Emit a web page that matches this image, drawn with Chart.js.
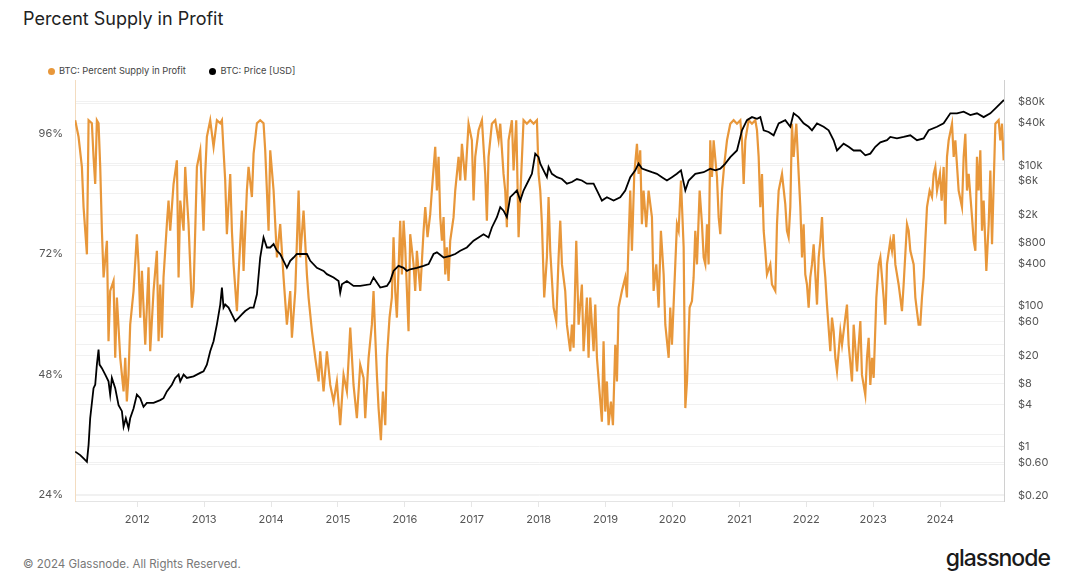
<!DOCTYPE html>
<html>
<head>
<meta charset="utf-8">
<script src="https://cdn.jsdelivr.net/npm/chart.js@4.4.1/dist/chart.umd.min.js"></script>
<style>
  body { margin: 0; background: #fff; font-family: Inter, "Noto Sans", sans-serif; }
  #wrap { position: relative; width: 1072px; height: 588px; overflow: hidden; }
  #title { position: absolute; left: 23px; top: 7px; font-size: 18px; color: #222; line-height: 24px; }
  #legend { position: absolute; left: 48px; top: 64px; font-size: 9.3px; color: #444; line-height: 14px; white-space: nowrap; }
  #legend span.dot { display: inline-block; width: 7px; height: 7px; border-radius: 50%; margin-right: 4px; vertical-align: -0.5px; }
  #legend span.item { margin-right: 21px; }
  #box { position: absolute; left: 0; top: 70px; }
  #copy { position: absolute; left: 23px; top: 557px; font-size: 11.5px; color: #777; }
  #logo { position: absolute; right: 22px; top: 544px; font-size: 23px; color: #1a1a1a; font-weight: 500; letter-spacing: -1px; }
</style>
</head>
<body>
<div id="wrap">
  <div id="title">Percent Supply in Profit</div>
  <div id="legend">
    <span class="item"><span class="dot" style="background:#e8973a"></span>BTC: Percent Supply in Profit</span>
    <span class="item"><span class="dot" style="background:#000"></span>BTC: Price [USD]</span>
  </div>
  <div id="box"><canvas id="chart" width="1072" height="470"></canvas></div>
  <div id="copy">© 2024 Glassnode. All Rights Reserved.</div>
  <div id="logo">glassnode</div>
</div>
<script>
// percent supply in profit (year fraction, %)
const profitYears = [
  2011.073, 2011.123, 2011.173, 2011.198, 2011.248, 2011.273, 2011.322, 2011.347, 2011.372, 2011.397,
  2011.422, 2011.447, 2011.472, 2011.497, 2011.547, 2011.571, 2011.596, 2011.646, 2011.671, 2011.696,
  2011.746, 2011.796, 2011.821, 2011.845, 2011.870, 2011.895, 2011.945, 2011.995, 2012.020, 2012.045,
  2012.070, 2012.120, 2012.169, 2012.194, 2012.244, 2012.294, 2012.319, 2012.344, 2012.369, 2012.393,
  2012.443, 2012.468, 2012.493, 2012.543, 2012.593, 2012.618, 2012.643, 2012.693, 2012.717, 2012.742,
  2012.767, 2012.817, 2012.842, 2012.867, 2012.892, 2012.942, 2012.967, 2012.991, 2013.016, 2013.041,
  2013.091, 2013.141, 2013.191, 2013.241, 2013.266, 2013.290, 2013.315, 2013.340, 2013.390, 2013.415,
  2013.440, 2013.490, 2013.515, 2013.564, 2013.589, 2013.639, 2013.664, 2013.714, 2013.739, 2013.789,
  2013.838, 2013.888, 2013.913, 2013.963, 2013.988, 2014.038, 2014.088, 2014.137, 2014.187, 2014.237,
  2014.287, 2014.312, 2014.362, 2014.412, 2014.436, 2014.486, 2014.536, 2014.561, 2014.611, 2014.661,
  2014.711, 2014.735, 2014.785, 2014.835, 2014.885, 2014.935, 2014.984, 2015.034, 2015.084, 2015.134,
  2015.184, 2015.233, 2015.283, 2015.333, 2015.383, 2015.408, 2015.458, 2015.507, 2015.532, 2015.557,
  2015.582, 2015.607, 2015.642, 2015.672, 2015.707, 2015.732, 2015.771, 2015.806, 2015.831, 2015.856,
  2015.881, 2015.931, 2015.956, 2015.981, 2016.005, 2016.055, 2016.080, 2016.130, 2016.155, 2016.180,
  2016.230, 2016.280, 2016.305, 2016.339, 2016.379, 2016.404, 2016.454, 2016.479, 2016.504, 2016.529,
  2016.554, 2016.579, 2016.604, 2016.628, 2016.653, 2016.678, 2016.728, 2016.753, 2016.803, 2016.828,
  2016.853, 2016.903, 2016.952, 2017.002, 2017.027, 2017.052, 2017.102, 2017.152, 2017.201, 2017.226,
  2017.251, 2017.301, 2017.351, 2017.401, 2017.426, 2017.475, 2017.500, 2017.525, 2017.550, 2017.600,
  2017.625, 2017.665, 2017.700, 2017.725, 2017.774, 2017.824, 2017.874, 2017.924, 2017.974, 2017.999,
  2018.024, 2018.049, 2018.083, 2018.123, 2018.148, 2018.173, 2018.223, 2018.263, 2018.298, 2018.323,
  2018.348, 2018.397, 2018.422, 2018.472, 2018.497, 2018.522, 2018.562, 2018.597, 2018.646, 2018.671,
  2018.721, 2018.746, 2018.771, 2018.821, 2018.846, 2018.871, 2018.910, 2018.945, 2018.970, 2018.995,
  2019.020, 2019.045, 2019.080, 2019.110, 2019.145, 2019.170, 2019.194, 2019.244, 2019.294, 2019.319,
  2019.344, 2019.369, 2019.394, 2019.429, 2019.469, 2019.494, 2019.518, 2019.543, 2019.568, 2019.608,
  2019.643, 2019.693, 2019.718, 2019.758, 2019.793, 2019.827, 2019.868, 2019.893, 2019.943, 2019.967,
  2019.992, 2020.017, 2020.042, 2020.067, 2020.092, 2020.127, 2020.167, 2020.192, 2020.217, 2020.256,
  2020.291, 2020.316, 2020.341, 2020.366, 2020.406, 2020.441, 2020.466, 2020.491, 2020.516, 2020.540,
  2020.565, 2020.590, 2020.615, 2020.665, 2020.690, 2020.715, 2020.740, 2020.775, 2020.815, 2020.864,
  2020.914, 2020.964, 2021.014, 2021.039, 2021.064, 2021.089, 2021.138, 2021.188, 2021.238, 2021.263,
  2021.288, 2021.313, 2021.338, 2021.363, 2021.388, 2021.412, 2021.462, 2021.487, 2021.537, 2021.562,
  2021.587, 2021.637, 2021.686, 2021.711, 2021.736, 2021.761, 2021.786, 2021.811, 2021.851, 2021.886,
  2021.911, 2021.936, 2021.960, 2021.985, 2022.010, 2022.035, 2022.060, 2022.085, 2022.110, 2022.135,
  2022.160, 2022.185, 2022.210, 2022.235, 2022.259, 2022.284, 2022.309, 2022.359, 2022.384, 2022.409,
  2022.434, 2022.459, 2022.509, 2022.534, 2022.583, 2022.608, 2022.633, 2022.683, 2022.708, 2022.758,
  2022.783, 2022.808, 2022.832, 2022.882, 2022.907, 2022.932, 2022.957, 2022.982, 2023.007, 2023.047,
  2023.082, 2023.107, 2023.156, 2023.181, 2023.206, 2023.256, 2023.281, 2023.306, 2023.331, 2023.380,
  2023.405, 2023.430, 2023.455, 2023.505, 2023.530, 2023.555, 2023.605, 2023.630, 2023.654, 2023.679,
  2023.704, 2023.729, 2023.754, 2023.779, 2023.804, 2023.844, 2023.879, 2023.904, 2023.929, 2023.954,
  2023.998, 2024.023, 2024.053, 2024.078, 2024.103, 2024.128, 2024.178, 2024.203, 2024.228, 2024.277,
  2024.327, 2024.352, 2024.377, 2024.402, 2024.427, 2024.477, 2024.502, 2024.527, 2024.551, 2024.576,
  2024.601, 2024.626, 2024.651, 2024.691, 2024.726, 2024.751, 2024.776, 2024.826, 2024.875, 2024.900,
  2024.925, 2024.950
];
const profitValues = [
  98.6, 95.3, 89.3, 81.3, 71.9, 98.6, 98.0, 91.3, 85.9, 98.6,
  98.0, 89.3, 76.6, 67.3, 74.6, 54.6, 64.6, 66.6, 51.3, 63.3,
  51.3, 44.6, 51.3, 42.6, 47.9, 57.9, 64.6, 75.9, 69.9, 59.3,
  68.6, 53.9, 69.3, 52.6, 64.6, 72.6, 54.6, 65.9, 55.3, 67.3,
  77.9, 82.6, 76.6, 85.9, 90.6, 67.3, 82.6, 76.6, 89.3, 83.3,
  77.9, 61.3, 64.6, 76.6, 89.3, 92.6, 84.6, 76.6, 87.9, 95.3,
  98.6, 93.3, 98.6, 98.0, 98.6, 92.6, 86.6, 75.9, 87.9, 76.6,
  69.9, 60.6, 67.9, 80.6, 68.6, 84.6, 89.3, 83.3, 91.9, 98.0,
  98.6, 98.0, 92.6, 76.6, 92.6, 84.6, 71.3, 77.9, 67.3, 57.9,
  64.6, 55.3, 64.6, 84.6, 71.3, 80.6, 67.9, 63.3, 56.6, 51.3,
  46.6, 52.6, 44.6, 52.6, 45.9, 42.6, 46.6, 37.9, 47.9, 44.6,
  57.3, 45.9, 39.3, 49.9, 47.3, 39.3, 51.3, 57.9, 64.6, 55.9,
  47.9, 41.3, 34.9, 44.6, 37.9, 51.3, 59.3, 63.3, 75.3, 64.6,
  59.3, 78.6, 67.9, 78.6, 73.3, 56.6, 75.9, 69.9, 64.6, 72.6,
  64.6, 76.6, 81.3, 75.3, 79.9, 84.6, 93.3, 84.6, 91.3, 79.3,
  74.6, 79.3, 67.9, 73.3, 66.6, 74.6, 79.3, 84.6, 91.3, 86.6,
  93.9, 86.6, 97.9, 94.6, 82.6, 91.3, 96.6, 98.6, 87.9, 78.6,
  91.3, 97.9, 98.6, 94.6, 97.9, 87.9, 84.6, 77.3, 94.6, 98.6,
  88.6, 98.6, 75.3, 83.3, 98.6, 97.9, 98.6, 97.9, 98.6, 87.9,
  84.6, 77.9, 63.3, 71.3, 83.3, 72.6, 61.3, 58.6, 71.3, 78.6,
  69.9, 64.6, 57.9, 52.6, 57.9, 53.3, 74.6, 57.9, 65.9, 52.6,
  63.3, 51.3, 63.3, 52.6, 61.9, 51.3, 44.6, 38.6, 54.6, 40.6,
  46.6, 37.9, 42.6, 37.9, 53.9, 46.6, 61.3, 64.6, 67.3, 63.3,
  74.6, 84.6, 72.6, 87.9, 93.9, 87.9, 92.6, 77.9, 84.6, 77.3,
  84.6, 79.3, 64.6, 69.9, 61.3, 76.6, 67.9, 57.9, 51.3, 61.3,
  53.9, 61.9, 69.9, 77.9, 76.6, 86.6, 73.3, 41.3, 46.6, 61.3,
  62.6, 67.3, 76.6, 69.9, 84.6, 77.9, 71.3, 69.9, 77.9, 69.9,
  94.6, 87.3, 94.6, 87.3, 79.3, 75.9, 84.6, 89.9, 94.6, 97.9,
  98.6, 97.9, 98.6, 94.6, 85.9, 94.6, 98.6, 97.9, 98.6, 96.6,
  91.3, 81.3, 87.9, 76.6, 72.6, 67.9, 69.9, 65.9, 64.6, 77.9,
  84.6, 87.9, 81.9, 76.6, 75.3, 81.3, 97.9, 91.3, 97.9, 87.9,
  81.3, 71.3, 77.9, 67.9, 65.9, 61.3, 67.3, 69.9, 73.9, 67.9,
  61.9, 71.3, 74.6, 79.3, 71.3, 67.3, 61.9, 52.6, 59.3, 56.6,
  51.3, 48.6, 56.6, 53.9, 59.3, 61.9, 53.9, 46.6, 57.9, 48.6,
  53.9, 58.6, 47.9, 43.9, 51.3, 55.3, 45.9, 51.3, 47.3, 63.3,
  69.9, 71.3, 63.3, 57.9, 69.9, 74.6, 72.6, 75.9, 69.9, 65.9,
  63.3, 60.6, 65.9, 77.9, 76.6, 72.6, 69.9, 63.3, 60.6, 57.9,
  57.9, 63.3, 67.3, 74.6, 81.3, 84.6, 83.3, 87.9, 89.3, 84.6,
  87.9, 82.6, 89.3, 77.9, 91.3, 94.6, 97.9, 91.3, 94.6, 84.6,
  81.3, 91.3, 95.9, 84.6, 87.9, 79.3, 74.6, 72.6, 91.3, 84.6,
  92.6, 76.6, 82.6, 68.6, 77.9, 88.6, 73.9, 97.9, 98.6, 94.6,
  97.9, 90.6
];

// BTC price in USD (year fraction, $)
const priceYears = [
  2011.073, 2011.148, 2011.198, 2011.248, 2011.273, 2011.297, 2011.347, 2011.372, 2011.397, 2011.422,
  2011.437, 2011.472, 2011.522, 2011.571, 2011.596, 2011.621, 2011.671, 2011.721, 2011.771, 2011.796,
  2011.830, 2011.870, 2011.895, 2011.945, 2011.995, 2012.045, 2012.094, 2012.144, 2012.244, 2012.344,
  2012.393, 2012.443, 2012.518, 2012.568, 2012.618, 2012.643, 2012.693, 2012.742, 2012.842, 2012.942,
  2012.991, 2013.041, 2013.091, 2013.141, 2013.191, 2013.241, 2013.266, 2013.290, 2013.315, 2013.365,
  2013.415, 2013.465, 2013.515, 2013.564, 2013.614, 2013.689, 2013.739, 2013.789, 2013.838, 2013.888,
  2013.938, 2013.988, 2014.038, 2014.088, 2014.137, 2014.237, 2014.287, 2014.337, 2014.386, 2014.436,
  2014.536, 2014.586, 2014.685, 2014.785, 2014.835, 2014.935, 2015.009, 2015.034, 2015.059, 2015.134,
  2015.233, 2015.333, 2015.482, 2015.532, 2015.632, 2015.732, 2015.781, 2015.831, 2015.906, 2015.981,
  2016.031, 2016.080, 2016.180, 2016.280, 2016.355, 2016.429, 2016.479, 2016.579, 2016.678, 2016.753,
  2016.828, 2016.927, 2017.027, 2017.102, 2017.176, 2017.251, 2017.301, 2017.376, 2017.426, 2017.475,
  2017.525, 2017.575, 2017.625, 2017.675, 2017.725, 2017.774, 2017.849, 2017.899, 2017.949, 2017.999,
  2018.024, 2018.073, 2018.123, 2018.148, 2018.198, 2018.273, 2018.348, 2018.422, 2018.497, 2018.572,
  2018.646, 2018.721, 2018.821, 2018.896, 2018.945, 2019.020, 2019.120, 2019.219, 2019.294, 2019.369,
  2019.444, 2019.493, 2019.543, 2019.618, 2019.693, 2019.767, 2019.842, 2019.917, 2019.992, 2020.066,
  2020.127, 2020.192, 2020.242, 2020.341, 2020.466, 2020.565, 2020.640, 2020.715, 2020.790, 2020.864,
  2020.964, 2021.039, 2021.113, 2021.188, 2021.263, 2021.313, 2021.363, 2021.437, 2021.512, 2021.587,
  2021.686, 2021.761, 2021.811, 2021.886, 2021.960, 2022.035, 2022.085, 2022.160, 2022.259, 2022.334,
  2022.409, 2022.459, 2022.558, 2022.633, 2022.708, 2022.808, 2022.882, 2022.957, 2023.032, 2023.107,
  2023.206, 2023.256, 2023.355, 2023.455, 2023.555, 2023.654, 2023.754, 2023.829, 2023.954, 2024.053,
  2024.153, 2024.252, 2024.352, 2024.452, 2024.551, 2024.651, 2024.751, 2024.850, 2024.925, 2024.955
];
const priceValues = [
  0.85, 0.76, 0.68, 0.61, 1.06, 2.54, 6.8, 7.6, 14.7, 24,
  14.7, 13.1, 10.6, 8.5, 5.5, 9.5, 6.8, 3.9, 3.2, 1.93,
  2.54, 1.83, 2.54, 3.5, 5.5, 4.9, 3.7, 4.2, 4.2, 4.6,
  4.9, 6.1, 7.6, 9.5, 10.6, 8.5, 10.6, 9.5, 10, 11.2,
  11.8, 14.7, 22.8, 31.6, 55, 105, 183, 95, 105, 95,
  76, 61, 68, 76, 85, 95, 95, 147, 490, 945,
  680, 680, 760, 610, 550, 350, 440, 490, 550, 550,
  550, 440, 350, 316, 284, 255, 227, 155, 204, 227,
  193, 193, 204, 255, 183, 193, 227, 316, 373, 350,
  316, 333, 350, 373, 395, 550, 580, 490, 517, 550,
  610, 680, 850, 945, 1050, 945, 1310, 1830, 2540, 2270,
  1830, 3530, 3930, 4400, 3160, 4400, 6100, 7600, 14700, 13100,
  10600, 8500, 6800, 9500, 7600, 6800, 6400, 5500, 5800, 6400,
  6100, 5500, 5500, 3930, 3160, 3530, 3160, 3530, 4400, 6800,
  8500, 10600, 9000, 8500, 8000, 7600, 6800, 6100, 6800, 7600,
  8500, 4400, 6100, 7600, 8000, 9000, 8500, 9000, 10600, 13100,
  16300, 31600, 44000, 48600, 46000, 48600, 31600, 29900, 26800, 39600,
  44000, 35400, 55000, 48600, 39600, 35400, 31600, 39600, 35400, 31600,
  22800, 16300, 20400, 18400, 16300, 16300, 13900, 14700, 18400, 21300,
  22800, 25400, 24200, 25400, 26800, 22800, 24200, 31600, 35400, 39600,
  55000, 55000, 58000, 51800, 55000, 48600, 55000, 67900, 80000, 85000
];

// axis ticks
const yearTicks = [2012, 2013, 2014, 2015, 2016, 2017, 2018, 2019, 2020, 2021, 2022, 2023, 2024];
const pctTicks = [24, 48, 72, 96];
const priceTicks = [0.2, 0.6, 1, 4, 8, 20, 60, 100, 400, 800, 2000, 6000, 10000, 40000, 80000];

const profitData = profitYears.map((x, i) => ({ x: x, y: profitValues[i] }));
const priceData = priceYears.map((x, i) => ({ x: x, y: priceValues[i] }));

function fmtPrice(v) {
    if (v >= 1000) return "$" + (v / 1000) + "k";
    if (v < 1) return "$" + v.toFixed(2);
    return "$" + v;
}

const tickFont = { family: "Inter", size: 11 };

new Chart(document.getElementById("chart"), {
    type: "line",
    data: {
        datasets: [{
            label: "BTC: Price [USD]",
            data: priceData,
            yAxisID: "price",
            borderColor: "#000",
            borderWidth: 1.8,
            pointRadius: 0,
            tension: 0
        }, {
            label: "BTC: Percent Supply in Profit",
            data: profitData,
            yAxisID: "pct",
            borderColor: "#e8973a",
            borderWidth: 2.2,
            pointRadius: 0,
            tension: 0
        }]
    },
    options: {
        responsive: false,
        animation: false,
        layout: { padding: { top: 10, left: 0, right: 0, bottom: 0 } },
        plugins: { legend: { display: false }, tooltip: { enabled: false } },
        scales: {
            x: {
                type: "linear",
                min: 2011.07,
                max: 2024.955,
                afterBuildTicks: s => { s.ticks = yearTicks.map(v => ({ value: v })); },
                afterFit: s => { s.height = 39; },
                ticks: { font: tickFont, color: "#555", padding: 6, maxRotation: 0, callback: v => String(v) },
                grid: { drawOnChartArea: false, tickLength: 6, color: "#e6e6e6" },
                border: { color: "#e4e4e4" }
            },
            pct: {
                type: "linear",
                position: "left",
                min: 22.8,
                max: 106.6,
                afterBuildTicks: s => {
                    const t = [];
                    for (let v = 24; v <= 102; v += 6) t.push({ value: v });
                    s.ticks = t;
                },
                afterFit: s => { s.width = 75; s.paddingTop = 0; s.paddingBottom = 0; },
                ticks: {
                    font: tickFont, color: "#555", padding: 12,
                    callback: v => pctTicks.includes(v) ? v + "%" : ""
                },
                grid: { drawTicks: false, color: "#f1f1f1" },
                border: { color: "#f3dcc0" }
            },
            price: {
                type: "logarithmic",
                position: "right",
                min: 0.169,
                max: 163800,
                afterBuildTicks: s => { s.ticks = priceTicks.map(v => ({ value: v })); },
                afterFit: s => { s.width = 68; s.paddingTop = 0; s.paddingBottom = 0; },
                ticks: { font: tickFont, color: "#555", padding: 14, callback: v => fmtPrice(v) },
                grid: { drawTicks: false, color: "#f1f1f1" },
                border: { color: "#d0d0d0" }
            }
        }
    }
});
</script>
</body>
</html>
